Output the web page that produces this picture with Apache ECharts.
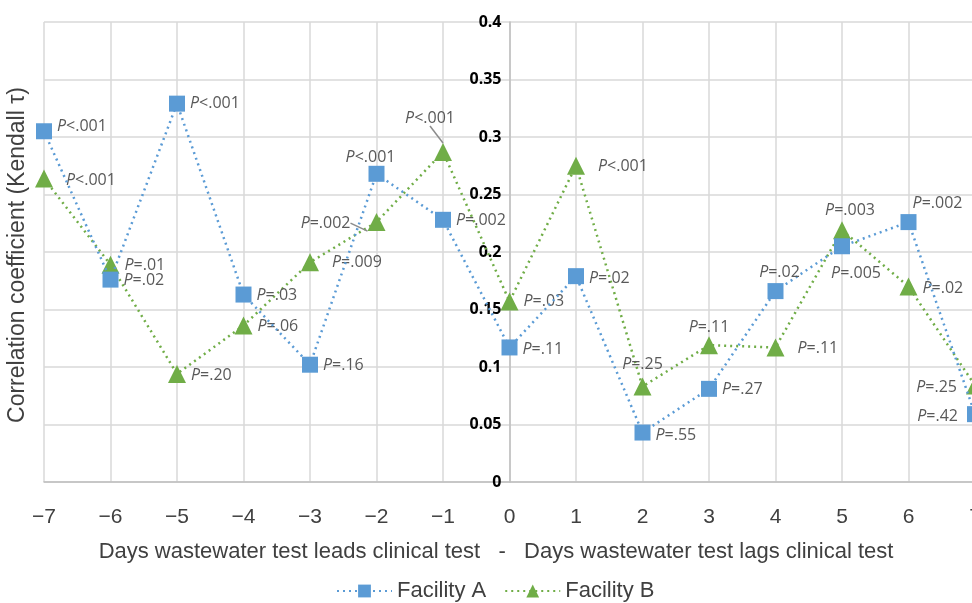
<!DOCTYPE html>
<html>
<head>
<meta charset="utf-8">
<script src="https://cdn.jsdelivr.net/npm/echarts@6/dist/echarts.min.js"></script>
<style>
  html, body { margin: 0; padding: 0; background: #fff; }
  #echarts { width: 972px; height: 603px; }
</style>
</head>
<body>
<div id="echarts"></div>
<script>
// Dias (negativo = esgoto antecede o teste clínico)
var days = [-7, -6, -5, -4, -3, -2, -1, 0, 1, 2, 3, 4, 5, 6, 7];

// Coeficiente de correlação (Kendall tau) por unidade
var facilityA = [0.305, 0.176, 0.329, 0.163, 0.102, 0.268, 0.228, 0.117, 0.179, 0.043, 0.081, 0.166, 0.205, 0.226, 0.059];
var facilityB = [0.264, 0.189, 0.094, 0.136, 0.191, 0.226, 0.287, 0.157, 0.275, 0.083, 0.119, 0.117, 0.219, 0.170, 0.084];

// Valores de P mostrados ao lado de cada ponto
var pA = ['<.001', '=.02', '<.001', '=.03', '=.16', '<.001', '=.002', '=.11', '=.02', '=.55', '=.27', '=.02', '=.005', '=.002', '=.42'];
var pB = ['<.001', '=.01', '=.20', '=.06', '=.009', '=.002', '<.001', '=.03', '<.001', '=.25', '=.11', '=.11', '=.003', '=.02', '=.25'];

var yTicks = [0, 0.05, 0.1, 0.15, 0.2, 0.25, 0.3, 0.35, 0.4];

// posição dos rótulos (estilo)
var posA = ['right', 'right', 'right', 'right', 'right', 'top', 'right', 'right', 'right', 'right', 'right', 'top', 'bottom', 'top', 'left'];
var offA = [[0, -5], [0, 1], [0, 0], [0, 1], [0, 1], [-6, 5], [0, 1], [0, 2], [0, 2], [0, 3], [0, 1], [4, 2], [14, 6], [29, 2], [-4, 2]];
var posB = ['right', 'right', 'right', 'right', 'right', 'left', 'top', 'right', 'right', 'top', 'top', 'right', 'top', 'right', 'left'];
// no Facility B o deslocamento vai pelo labelLayout (dx, dy)
var offB = [[8, 2], [0, 1], [0, 2], [0, 1], [8, 0], [-12, 1], [-13, -12], [0, 0], [8, 1], [0, 0], [0, 4], [8, 1], [8, 2], [0, 2], [-4, 2]];
// rótulos com linha de chamada (Facility B, dias -2 e -1)
var leaderB = { 5: true, 6: true };

var chart = echarts.init(document.getElementById('echarts'));

var labelFont = '"Open Sans", sans-serif';
var axisFont = '"Liberation Sans Narrow", "Liberation Sans", sans-serif';

var gridLeft = 44;
var gridWidth = 931;

function buildData(vals, ps, pos, off, leaders) {
    return days.map(function (d, i) {
        var item = {
            value: [d, vals[i]],
            label: {
                show: true,
                position: pos[i],
                formatter: '{i|P}' + ps[i]
            }
        };
        if (off) {
            item.label.offset = off[i];
        }
        if (leaders && leaders[i]) {
            item.labelLine = { show: true, length2: 0, lineStyle: { color: '#8c8c8c', width: 1.5 } };
        }
        return item;
    });
}

var labelBase = {
    show: true,
    color: '#595959',
    fontSize: 16,
    fontFamily: labelFont,
    rich: {
        i: { fontStyle: 'italic', color: '#595959', fontSize: 16, fontFamily: labelFont }
    }
};

var options = {
    backgroundColor: '#ffffff',
    animation: false,
    grid: {
        left: gridLeft,
        width: gridWidth,
        top: 22,
        bottom: 121,
        outerBoundsMode: 'none'
    },
    legend: {
        bottom: -4,
        left: 331,
        itemWidth: 55,
        itemHeight: 16,
        itemGap: 18,
        textStyle: { color: '#404040', fontSize: 22, fontFamily: axisFont },
        data: ['Facility A', 'Facility B']
    },
    xAxis: {
        type: 'value',
        min: -7,
        max: 7,
        interval: 1,
        name: 'Days wastewater test leads clinical test   -   Days wastewater test lags clinical test',
        nameLocation: 'middle',
        nameGap: 59,
        nameTextStyle: { color: '#404040', fontSize: 22, fontFamily: axisFont, padding: [0, 27, 0, 0] },
        axisLine: { onZero: false, lineStyle: { color: '#bfbfbf', width: 1.5 } },
        axisTick: { show: false },
        axisLabel: {
            margin: 25,
            color: '#404040',
            fontSize: 21,
            fontFamily: axisFont,
            formatter: function (v) { return String(v).replace('-', '\u2212'); }
        },
        splitLine: { show: true, lineStyle: { color: '#d9d9d9', width: 1.5 } }
    },
    yAxis: {
        type: 'value',
        min: 0,
        max: 0.4,
        interval: 0.05,
        // eixo desenhado em x = 0 (meio do gráfico)
        offset: -gridWidth / 2,
        axisLine: { show: true, onZero: false, lineStyle: { color: '#bfbfbf', width: 1.5 } },
        axisTick: { show: false },
        axisLabel: {
            margin: 8,
            color: '#000000',
            fontWeight: 'bold',
            fontSize: 16,
            fontFamily: labelFont,
            formatter: function (v) {
                var t = yTicks.find(function (k) { return Math.abs(k - v) < 1e-9; });
                return t === undefined ? '' : String(t);
            }
        },
        splitLine: { show: true, lineStyle: { color: '#d9d9d9', width: 1.5 } }
    },
    graphic: [
        {
            type: 'text',
            x: 18,
            y: 255,
            rotation: Math.PI / 2,
            style: {
                text: 'Correlation coefficient (Kendall \u03c4)',
                fill: '#404040',
                fontSize: 23,
                fontFamily: axisFont,
                align: 'center',
                verticalAlign: 'middle'
            }
        }
    ],
    series: [
        {
            name: 'Facility A',
            type: 'line',
            symbol: 'rect',
            symbolSize: 16,
            itemStyle: { color: '#5b9bd5' },
            lineStyle: { color: '#5b9bd5', width: 2.5, type: [2, 4] },
            label: labelBase,
            data: buildData(facilityA, pA, posA, offA, null),
            z: 3
        },
        {
            name: 'Facility B',
            type: 'line',
            symbol: 'triangle',
            symbolSize: 18,
            itemStyle: { color: '#70ad47' },
            lineStyle: { color: '#70ad47', width: 2.5, type: [2, 4] },
            label: labelBase,
            labelLayout: function (params) {
                var o = offB[params.dataIndex];
                return { dx: o[0], dy: o[1] };
            },
            data: buildData(facilityB, pB, posB, null, leaderB),
            z: 2
        }
    ]
};

chart.setOption(options);
</script>
</body>
</html>
